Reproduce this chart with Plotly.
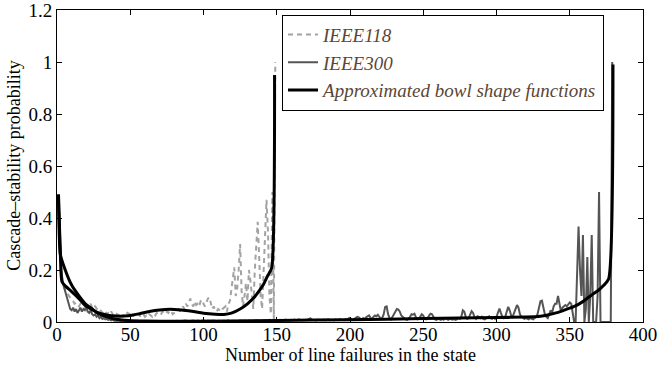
import plotly.graph_objects as go

# Cascade-stability probability for IEEE118 (states 1..149)
ieee118_y = [
    0.45, 0.25, 0.18, 0.15, 0.13, 0.12, 0.11, 0.10, 0.09, 0.085,
    0.08, 0.07, 0.075, 0.065, 0.06, 0.07, 0.065, 0.06, 0.055, 0.06,
    0.065, 0.06, 0.07, 0.055, 0.05, 0.06, 0.05, 0.045, 0.05, 0.04,
    0.035, 0.045, 0.04, 0.03, 0.035, 0.03, 0.04, 0.03, 0.025, 0.035,
    0.03, 0.025, 0.035, 0.03, 0.02, 0.03, 0.025, 0.035, 0.03, 0.04,
    0.03, 0.025, 0.03, 0.02, 0.025, 0.03, 0.02, 0.025, 0.03, 0.02,
    0.025, 0.02, 0.03, 0.025, 0.02, 0.03, 0.025, 0.035, 0.03, 0.025,
    0.03, 0.04, 0.035, 0.03, 0.04, 0.035, 0.045, 0.04, 0.03, 0.035,
    0.04, 0.045, 0.05, 0.04, 0.05, 0.06, 0.05, 0.07, 0.06, 0.08,
    0.09, 0.07, 0.06, 0.08, 0.065, 0.07, 0.06, 0.08, 0.085, 0.07,
    0.06, 0.075, 0.09, 0.095, 0.07, 0.05, 0.06, 0.045, 0.04, 0.05,
    0.045, 0.04, 0.05, 0.055, 0.06, 0.04, 0.07, 0.08, 0.12, 0.16,
    0.21, 0.10, 0.13, 0.20, 0.30, 0.12, 0.06, 0.10, 0.15, 0.08,
    0.20, 0.16, 0.10, 0.05, 0.20, 0.30, 0.385, 0.25, 0.10, 0.05,
    0.20, 0.30, 0.47, 0.35, 0.10, 0.03, 0.50, 0.01, 1.00,
]
ieee118_x = list(range(1, len(ieee118_y) + 1))

# Cascade-stability probability for IEEE300 (states 1..379)
ieee300_y = [
    0.49, 0.30, 0.20, 0.15, 0.13, 0.10, 0.08, 0.065, 0.05, 0.045,
    0.055, 0.04, 0.05, 0.035, 0.045, 0.055, 0.04, 0.05, 0.045, 0.055,
    0.04, 0.035, 0.045, 0.03, 0.025, 0.03, 0.02, 0.025, 0.015, 0.02,
    0.012, 0.015, 0.01, 0.012, 0.008, 0.01, 0.006, 0.008, 0.005, 0.006,
    0.004, 0.006, 0.004, 0.003, 0.005, 0.003, 0.004, 0.002, 0.004, 0.003,
    0.003, 0.004, 0.002, 0.003, 0.005, 0.003, 0.002, 0.004, 0.003, 0.002,
    0.003, 0.002, 0.004, 0.003, 0.002, 0.003, 0.004, 0.002, 0.003, 0.002,
    0.003, 0.004, 0.002, 0.003, 0.002, 0.004, 0.003, 0.002, 0.003, 0.004,
    0.003, 0.005, 0.004, 0.003, 0.005, 0.004, 0.006, 0.004, 0.005, 0.004,
    0.005, 0.004, 0.006, 0.005, 0.004, 0.006, 0.005, 0.004, 0.006, 0.005,
    0.004, 0.005, 0.006, 0.004, 0.005, 0.006, 0.004, 0.005, 0.004, 0.006,
    0.005, 0.004, 0.006, 0.005, 0.004, 0.005, 0.006, 0.004, 0.005, 0.006,
    0.005, 0.004, 0.006, 0.005, 0.006, 0.004, 0.005, 0.006, 0.005, 0.004,
    0.006, 0.005, 0.004, 0.006, 0.005, 0.007, 0.005, 0.006, 0.004, 0.006,
    0.005, 0.007, 0.005, 0.006, 0.008, 0.005, 0.007, 0.006, 0.005, 0.007,
    0.006, 0.008, 0.005, 0.007, 0.006, 0.009, 0.006, 0.007, 0.005, 0.008,
    0.006, 0.009, 0.007, 0.006, 0.010, 0.007, 0.006, 0.008, 0.007, 0.009,
    0.008, 0.012, 0.014, 0.009, 0.007, 0.008, 0.006, 0.009, 0.007, 0.008,
    0.007, 0.009, 0.006, 0.008, 0.010, 0.007, 0.009, 0.008, 0.006, 0.009,
    0.008, 0.007, 0.010, 0.008, 0.009, 0.007, 0.011, 0.008, 0.014, 0.016,
    0.010, 0.008, 0.012, 0.015, 0.020, 0.018, 0.012, 0.009, 0.015, 0.012,
    0.018, 0.022, 0.025, 0.016, 0.012, 0.020, 0.025, 0.022, 0.028, 0.020,
    0.012, 0.016, 0.030, 0.058, 0.060, 0.030, 0.015, 0.010, 0.020, 0.032,
    0.045, 0.050, 0.048, 0.040, 0.025, 0.020, 0.012, 0.010, 0.008, 0.012,
    0.020, 0.030, 0.028, 0.032, 0.018, 0.010, 0.012, 0.020, 0.030, 0.025,
    0.012, 0.010, 0.015, 0.025, 0.032, 0.030, 0.018, 0.010, 0.008, 0.012,
    0.010, 0.008, 0.012, 0.009, 0.015, 0.010, 0.008, 0.012, 0.010, 0.009,
    0.012, 0.008, 0.010, 0.015, 0.012, 0.020, 0.045, 0.040, 0.020, 0.012,
    0.015, 0.030, 0.042, 0.035, 0.018, 0.012, 0.022, 0.020, 0.015, 0.020,
    0.012, 0.010, 0.015, 0.020, 0.022, 0.015, 0.012, 0.018, 0.012, 0.020,
    0.040, 0.052, 0.035, 0.020, 0.015, 0.020, 0.040, 0.058, 0.045, 0.025,
    0.020, 0.035, 0.050, 0.065, 0.055, 0.030, 0.020, 0.015, 0.012, 0.015,
    0.012, 0.010, 0.015, 0.012, 0.010, 0.015, 0.020, 0.030, 0.055, 0.080,
    0.082, 0.060, 0.030, 0.020, 0.015, 0.030, 0.045, 0.035, 0.060, 0.070,
    0.070, 0.100, 0.060, 0.040, 0.055, 0.060, 0.065, 0.060, 0.070, 0.075,
    0.070, 0.030, 0.000, 0.000, 0.150, 0.367, 0.200, 0.100, 0.335, 0.000,
    0.050, 0.250, 0.000, 0.100, 0.335, 0.000, 0.000, 0.000, 0.100, 0.500,
    0.000, 0.000, 0.000, 0.000, 0.000, 0.000, 0.000, 0.000, 1.000,
]
ieee300_x = list(range(1, len(ieee300_y) + 1))

# Approximated bowl shape function fitted to IEEE118
fit118_x = [1, 2.3, 3.4, 6, 10, 15, 19, 24, 28, 34, 40, 46, 52, 57, 63, 70, 77,
            85, 92, 100, 108, 114, 119, 125, 130, 134, 138, 141, 144, 146.5, 148.5]
fit118_y = [0.49, 0.26, 0.155, 0.137, 0.117, 0.09, 0.065, 0.047, 0.036, 0.027,
            0.023, 0.023, 0.027, 0.033, 0.04, 0.046, 0.049, 0.046, 0.041, 0.034,
            0.03, 0.029, 0.034, 0.05, 0.07, 0.091, 0.12, 0.145, 0.18, 0.207, 0.95]

# Approximated bowl shape function fitted to IEEE300
fit300_x = [1, 2.3, 5, 10, 15, 19, 24, 28, 33, 37.5, 43, 49, 60, 80, 120, 150,
            200, 250, 300, 320, 330, 335, 340, 345, 350, 355, 360, 365, 370,
            373, 376.5, 379.5]
fit300_y = [0.49, 0.26, 0.21, 0.142, 0.1, 0.072, 0.05, 0.033, 0.022, 0.014,
            0.009, 0.006, 0.004, 0.003, 0.004, 0.006, 0.009, 0.013, 0.017,
            0.019, 0.022, 0.027, 0.034, 0.043, 0.053, 0.065, 0.083, 0.104,
            0.124, 0.14, 0.165, 0.99]

x_ticks = [0, 50, 100, 150, 200, 250, 300, 350, 400]
y_ticks = [0, 0.2, 0.4, 0.6, 0.8, 1, 1.2]

X_TITLE = "Number of line failures in the state"
Y_TITLE = "Cascade–stability probability"

FONT = "'Liberation Serif', 'Times New Roman', Times, 'DejaVu Serif', serif"

fig = go.Figure()
fig.add_trace(go.Scatter(
    x=ieee118_x, y=ieee118_y, mode="lines", name="IEEE118",
    line=dict(color="#a3a3a3", width=2, dash="5px,4px"),
))
fig.add_trace(go.Scatter(
    x=ieee300_x, y=ieee300_y, mode="lines", name="IEEE300",
    line=dict(color="#555555", width=2),
))
fig.add_trace(go.Scatter(
    x=fit118_x, y=fit118_y, mode="lines", name="Approximated bowl shape functions",
    line=dict(color="#000000", width=3, shape="spline", smoothing=0.6),
))
fig.add_trace(go.Scatter(
    x=fit300_x, y=fit300_y, mode="lines", showlegend=False,
    line=dict(color="#000000", width=3, shape="spline", smoothing=0.6),
))

axis_common = dict(
    showline=True, linecolor="black", linewidth=1, mirror="ticks",
    ticks="inside", ticklen=5, tickcolor="black", showgrid=False, zeroline=False,
    automargin=False, ticklabeloverflow="allow",
    tickfont=dict(family=FONT, size=19, color="black"),
)

fig.update_layout(
    width=658, height=366,
    margin=dict(l=57, r=15, t=10, b=44),
    paper_bgcolor="white", plot_bgcolor="white",
    font=dict(family=FONT, size=19, color="black"),
    xaxis=dict(range=[0, 400], tickvals=x_ticks, ticklabelstandoff=-5,
               **axis_common),
    yaxis=dict(range=[0, 1.2], tickvals=y_ticks, **axis_common),
    legend=dict(
        x=0.384, y=0.985, xanchor="left", yanchor="top",
        bgcolor="white", bordercolor="black", borderwidth=1,
        font=dict(family=FONT, size=19, color="#5b4636", style="italic"),
        tracegroupgap=0,
    ),
    annotations=[
        dict(text=X_TITLE, xref="paper", yref="paper", x=0.5, y=-0.106,
             xanchor="center", yanchor="middle", showarrow=False, borderpad=0,
             font=dict(family=FONT, size=18, color="black")),
        dict(text=Y_TITLE, xref="paper", yref="paper", x=-0.074, y=0.5,
             xanchor="center", yanchor="middle", textangle=-90, showarrow=False,
             borderpad=0, font=dict(family=FONT, size=18, color="black")),
    ],
)

fig.write_html("out.html")
